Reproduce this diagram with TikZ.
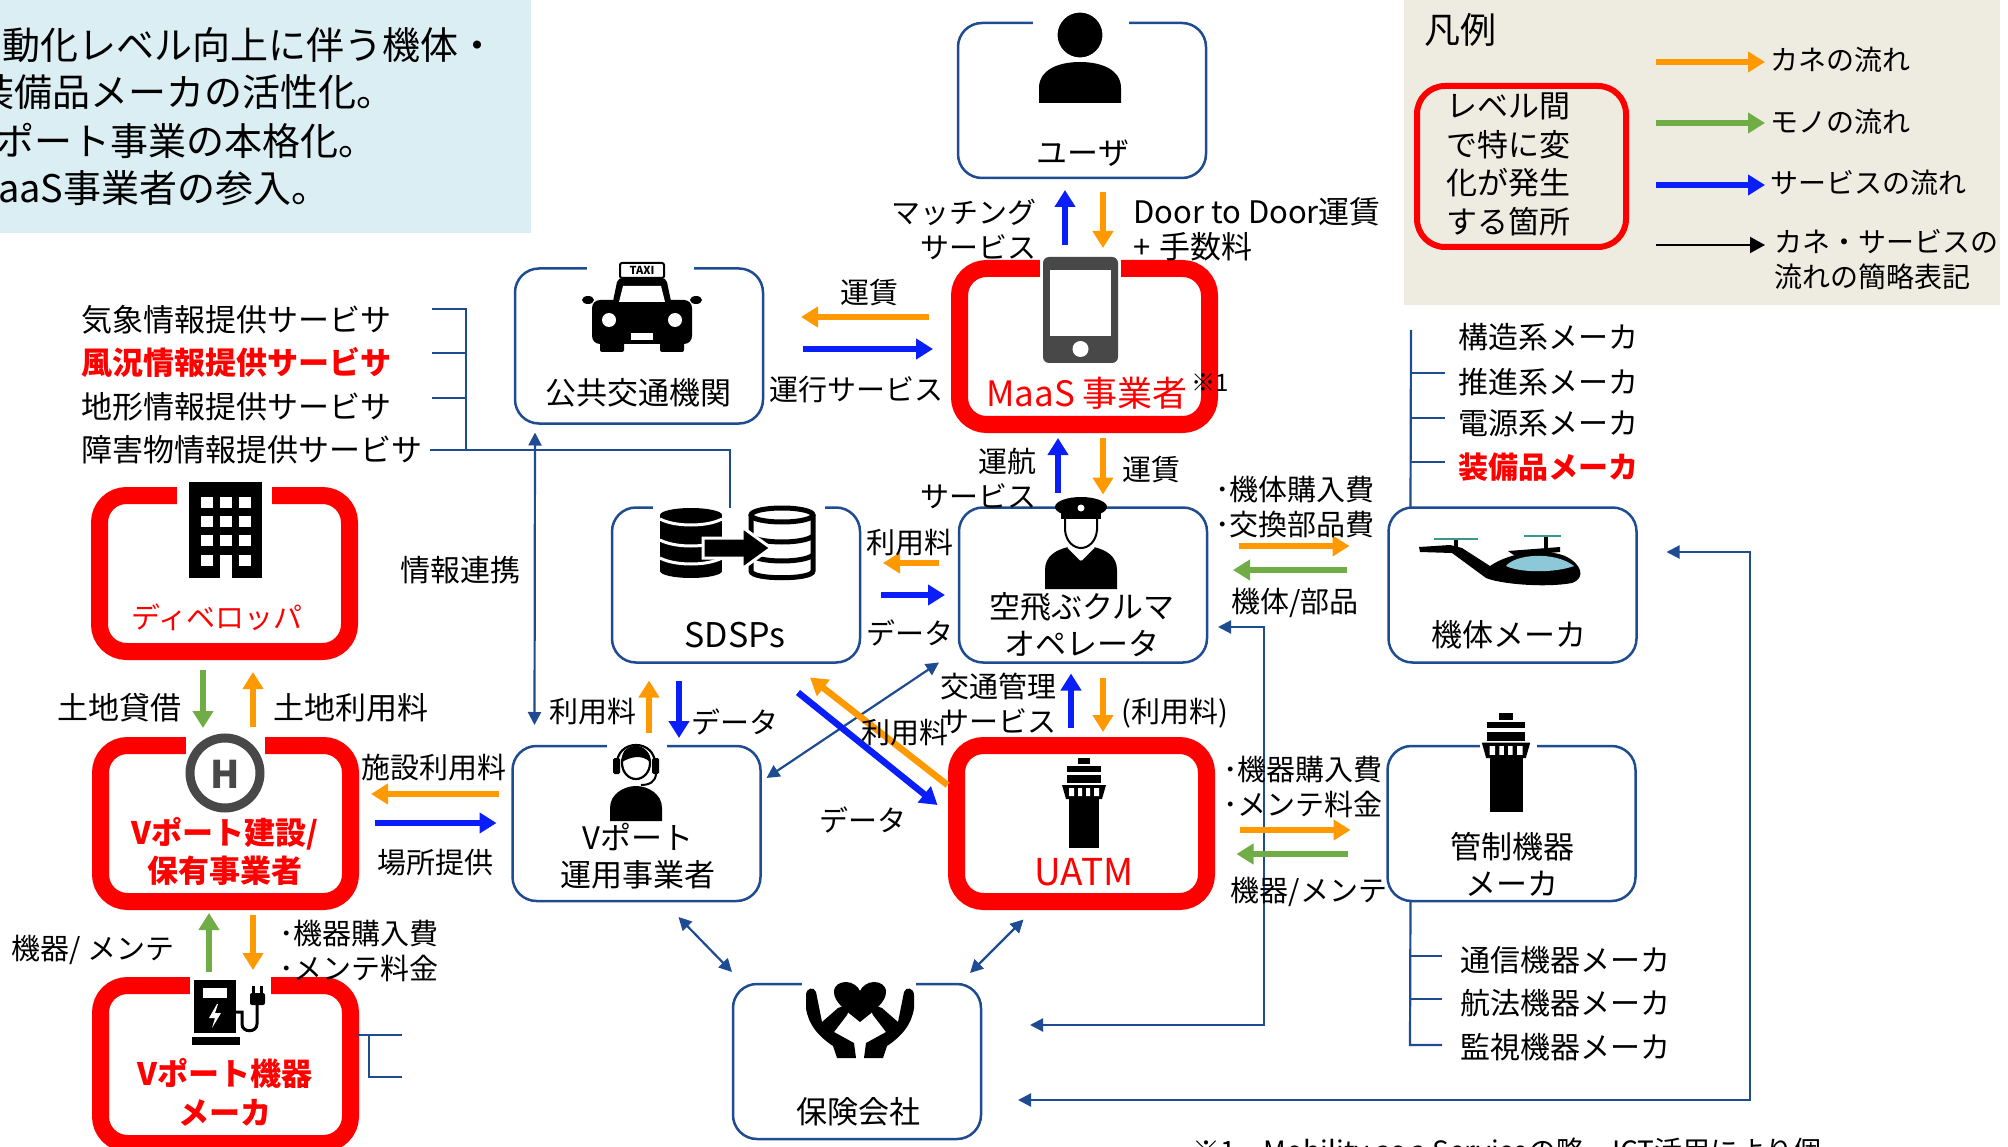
\documentclass[tikz,border=0pt]{standalone}
\usepackage{fontspec}
\setmainfont{Noto Sans CJK JP}
\usetikzlibrary{arrows.meta,calc}

\definecolor{dblue}{RGB}{30,75,145}
\definecolor{ored}{RGB}{255,0,0}
\definecolor{orng}{RGB}{255,153,0}
\definecolor{grn}{RGB}{112,173,71}
\definecolor{blu}{RGB}{10,30,250}
\definecolor{legbg}{RGB}{238,236,225}
\definecolor{infobg}{RGB}{218,238,243}
\definecolor{icongray}{RGB}{72,72,72}
\definecolor{canopy}{RGB}{140,200,215}
\definecolor{rotorc}{RGB}{60,150,140}

\newcommand\fsz[2]{\fontsize{#1pt}{#2pt}\selectfont}

\tikzset{
  bbox/.style={draw=dblue, line width=2.5pt, rounded corners=24pt,
    minimum width=248pt, minimum height=155pt, inner sep=0pt, outer sep=0pt},
  rbox/.style={draw=ored, line width=17pt, rounded corners=27pt,
    minimum width=250pt, minimum height=156pt, inner sep=0pt, outer sep=0pt},
  flowtip/.style={-{Triangle[length=17pt,width=20pt]}},
  flow/.style={line width=6.5pt, flowtip},
  money/.style={flow, draw=orng},
  goods/.style={flow, draw=grn},
  serv/.style={flow, draw=blu},
  link/.style={draw=dblue, line width=2.2pt},
  linkboth/.style={link, {Triangle[length=13pt,width=13pt]}-{Triangle[length=13pt,width=13pt]}},
  lab/.style={inner sep=0pt, font=\fsz{29}{35}},
  boxtitle/.style={inner sep=0pt, font=\fsz{31}{37}, align=center},
  listtext/.style={inner sep=0pt, anchor=west, font=\fsz{31}{36}},
  notetext/.style={inner sep=0pt, anchor=west, font=\fsz{38}{42}},
  tower/.pic={
    \fill (-6,0) rectangle (6,6);
    \fill (-17,8) rectangle (17,14);
    \fill (-17,17) rectangle (17,25);
    \fill (-22,27) -- (22,27) -- (18,41) -- (-18,41) -- cycle;
    \fill[white] (-15,30) rectangle (-10,38) (-6,30) rectangle (-2,38)
                 (2,30) rectangle (6,38) (10,30) rectangle (15,38);
    \fill (-15,41) rectangle (15,90);
  },
}

\begin{document}
\begin{tikzpicture}[x=1pt,y=-1pt]
\useasboundingbox (0,0) rectangle (2008,1147);
\begin{scope}
\clip (0,0) rectangle (2008,1147);

% ---------- top-left note and legend panels ----------
\fill[infobg] (0,0) rectangle (531,233);
\node[notetext] (note1) at (-36,45) {自動化レベル向上に伴う機体・};
\node[notetext] (note2) at (-24,92) {装備品メーカの活性化。};
\node[notetext] (note3) at (-26,141) {Vポート事業の本格化。};
\node[notetext] (note4) at (-33,188) {MaaS事業者の参入。};

\fill[legbg] (1404,0) rectangle (2000,305);
\node[lab, font=\fsz{36}{40}, anchor=west] (leg-t) at (1424,30) {凡例};
\node[draw=ored, line width=6pt, rounded corners=28pt, minimum width=209pt,
      minimum height=161pt, inner sep=0pt] (leg-box) at (1521.5,166.5) {};
\node[boxtitle, font=\fsz{31}{38.5}] (leg-bt) at (1508,164.5) {レベル間\\で特に変\\化が発生\\する箇所};
\node[lab, font=\fsz{28}{35}, anchor=west] (leg-m) at (1770,60) {カネの流れ};
\node[lab, font=\fsz{28}{35}, anchor=west] (leg-g) at (1770,122) {モノの流れ};
\node[lab, font=\fsz{28}{35}, anchor=west] (leg-s) at (1770,183) {サービスの流れ};
\node[lab, font=\fsz{28}{35}, anchor=west, align=left] (leg-k) at (1774,259.5) {カネ・サービスの\\流れの簡略表記};
\draw[money] ($(leg-m.west)+(-114,2)$) -- ($(leg-m.west)+(-5,2)$);
\draw[goods] ($(leg-g.west)+(-114,1)$) -- ($(leg-g.west)+(-5,1)$);
\draw[serv] ($(leg-s.west)+(-114,2)$) -- ($(leg-s.west)+(-5,2)$);
\draw[black, line width=2pt, -{Triangle[length=15pt,width=16pt]}]
  ($(leg-k.west)+(-118,-14.5)$) -- ($(leg-k.west)+(-9,-14.5)$);

% ---------- boxes ----------
\node[bbox] (user) at (1082,100.5) {};
\node[rbox] (maas) at (1084.5,346.5) {};
\node[bbox] (transit) at (639,346) {};
\node[bbox] (sdsp) at (736,585) {};
\node[bbox] (op) at (1083,585) {};
\node[bbox] (body) at (1512.5,585) {};
\node[rbox] (dev) at (224.5,573.5) {};
\node[rbox] (vpb) at (225.5,823.5) {};
\node[bbox] (vop) at (636.5,823.5) {};
\node[rbox] (uatm) at (1081.5,823.5) {};
\node[bbox] (ctrl) at (1511.5,823.5) {};
\node[rbox, minimum height=158pt] (vpm) at (225.5,1064.5) {};
\node[bbox] (ins) at (857,1061.5) {};

% openings in the frames where the icons sit
\fill[white] (1033,14) rectangle (1129,32);
\fill[white] (587,262) rectangle (694,276);
\fill[white] (653,501) rectangle (825,515);
\fill[white] (607,739) rectangle (667,753);
\fill[white] (802,977) rectangle (916,991);
\fill[white] (1480,739) rectangle (1537,753);
\fill[white] (1040,257) rectangle (1121,280);
\fill[white] (177,484) rectangle (272,507);
\fill[white] (186,734) rectangle (265,757);
\fill[white] (190,974) rectangle (271,997);

% ---------- icons ----------
% user
\fill (1039,103) -- (1039,88) .. controls (1039,70) and (1058,62) .. (1080,62)
  .. controls (1102,62) and (1121,70) .. (1121,88) -- (1121,103) -- cycle;
\filldraw[draw=white, line width=3pt] (1080,35) circle (24);
% smartphone
\fill[icongray, rounded corners=6pt] (1043,257) rectangle (1118,363);
\fill[white] (1050,270) rectangle (1111,336);
\fill[white] (1080.5,349) circle (8);
% taxi
\fill (612,306) -- (617,282) .. controls (618,279) and (620,278) .. (623,278) -- (661,278)
  .. controls (664,278) and (666,279) .. (667,282) -- (672,306) -- cycle;
\fill[rounded corners=8pt] (592,300) rectangle (692,344);
\fill[rounded corners=2pt] (600,335) rectangle (624,352);
\fill[rounded corners=2pt] (660,335) rectangle (684,352);
\fill (588,300) ellipse [x radius=6, y radius=4];
\fill (696,300) ellipse [x radius=6, y radius=4];
\fill[white] (619,302) -- (623,286) -- (661,286) -- (665,302) -- cycle;
\fill[white] (609,320) circle (7);
\fill[white] (675,320) circle (7);
\fill[white] (631,333) rectangle (653,340);
\filldraw[fill=white, draw=black, line width=2pt, rounded corners=2pt] (620,263) rectangle (664,278);
\node[inner sep=0pt, font=\fsz{11}{11}\bfseries] (taxi-sign) at (642,270.5) {TAXI};
% pilot
\fill (1081,507) ellipse [x radius=26, y radius=10];
\fill (1061,511) rectangle (1101,519);
\fill[white] (1081,508) circle (3.5);
\filldraw[fill=white, draw=black, line width=2pt] (1065,519) -- (1065,530)
  .. controls (1066,542) and (1074,548) .. (1081,548)
  .. controls (1088,548) and (1096,542) .. (1097,530) -- (1097,519);
\fill (1045,589) -- (1045,570) .. controls (1045,556) and (1056,550) .. (1068,547)
  -- (1081,560) -- (1094,547) .. controls (1106,550) and (1117,556) .. (1117,570)
  -- (1117,589) -- cycle;
\draw[white, line width=2pt] (1068,547) -- (1081,560) -- (1094,547);
\fill (1081,560) -- (1077,565) -- (1081,585) -- (1085,565) -- cycle;
% databases
\fill (660,515) rectangle (722,571);
\fill (691,515) ellipse [x radius=31, y radius=7];
\fill (691,571) ellipse [x radius=31, y radius=7];
\draw[white, line width=3pt] (660,519) .. controls (675,527) and (707,527) .. (722,519);
\draw[white, line width=3pt] (660,540) .. controls (675,548) and (707,548) .. (722,540);
\draw[white, line width=3pt] (660,558) .. controls (675,566) and (707,566) .. (722,558);
\draw[line width=5pt, fill=white] (751,515) -- (751,571) .. controls (751,580) and (813,580) .. (813,571) -- (813,515);
\draw[line width=5pt] (782,515) ellipse [x radius=31, y radius=7];
\draw[line width=5pt] (751,536) .. controls (760,544) and (804,544) .. (813,536);
\draw[line width=5pt] (751,555) .. controls (760,563) and (804,563) .. (813,555);
\filldraw[draw=white, line width=3pt] (703,538) -- (742,538) -- (742,527) -- (771,548)
  -- (742,569) -- (742,558) -- (703,558) -- cycle;
% building
\fill (189,482) rectangle (262,578);
\foreach \cx in {201,220,239}
  \foreach \cy in {497,516,535}
    \fill[white] (\cx,\cy) rectangle ++(12,11);
\fill[white] (201,555) rectangle ++(12,11);
\fill[white] (239,555) rectangle ++(12,11);
\fill[white] (220,555) rectangle (232,578);
% heliport mark
\draw[icongray, line width=9pt] (225,773) circle (35);
\node[inner sep=0pt, text=icongray, font=\fsz{38}{38}\bfseries] (h-mark) at (225,774) {H};
% charging station
\fill (194,980) rectangle (236,1033);
\fill (192,1037) rectangle (240,1045);
\fill[white] (203,988) rectangle (227,998);
\fill[white] (217,1004) -- (209,1018) -- (215,1018) -- (212,1028) -- (221,1013)
  -- (215,1013) -- (218,1004) -- cycle;
\draw[line width=3pt] (236,1012) -- (242,1012) -- (242,1024)
  .. controls (242,1033) and (257,1033) .. (257,1024) -- (257,1004);
\fill[rounded corners=2pt] (250,993) rectangle (265,1005);
\fill (252,986) rectangle (255,993);
\fill (260,986) rectangle (263,993);
% operator with headset
\fill (610,821) -- (610,808) .. controls (610,794) and (624,786) .. (636,786)
  .. controls (648,786) and (662,794) .. (662,808) -- (662,821) -- cycle;
\filldraw[fill=white, draw=black, line width=2.2pt] (636,763) ellipse [x radius=14, y radius=16];
\fill (622,762) .. controls (621,748) and (630,746) .. (637,747)
  .. controls (645,748) and (651,753) .. (650,762) .. controls (642,754) and (630,757) .. (622,762) -- cycle;
\draw[line width=2.2pt] (617,766) .. controls (615,738) and (657,738) .. (655,766);
\fill[rounded corners=1.5pt] (613,758) rectangle (620,774);
\fill[rounded corners=1.5pt] (652,758) rectangle (659,774);
\draw[line width=2pt] (656,773) .. controls (656,782) and (649,785) .. (641,785);
% control towers
\pic at (1084,758) {tower};
\pic[scale=1.1] at (1506,713) {tower};
% eVTOL aircraft
\fill (1419,547) -- (1450,545) -- (1462,548) -- (1490,566)
  .. controls (1510,552) and (1545,548) .. (1565,556)
  .. controls (1582,564) and (1586,578) .. (1572,583)
  .. controls (1545,588) and (1500,584) .. (1486,578)
  -- (1452,553) -- (1420,552) -- cycle;
\fill (1508,551) -- (1560,547) -- (1560,552) -- (1515,556) -- cycle;
\fill (1454,539) rectangle (1458,548);
\fill (1544,537) rectangle (1548,549);
\draw[rotorc, line width=2.5pt] (1434,539) -- (1478,539);
\draw[rotorc, line width=2.5pt] (1524,536) -- (1561,536);
\fill[canopy] (1506,566) .. controls (1515,554) and (1555,551) .. (1574,566)
  .. controls (1555,573) and (1520,573) .. (1506,566) -- cycle;
% heart in hands
\fill (860,1022) .. controls (845,1010) and (834,1002) .. (834,992)
  .. controls (834,985) and (840,982) .. (846,982) .. controls (852,982) and (858,986) .. (860,991)
  .. controls (862,986) and (868,982) .. (874,982) .. controls (880,982) and (886,985) .. (886,992)
  .. controls (886,1002) and (875,1010) .. (860,1022) -- cycle;
\fill (806,995) .. controls (806,988) and (814,986) .. (816,992) -- (822,1022) -- (838,1008)
  .. controls (843,1004) and (851,1009) .. (847,1015) -- (834,1032) -- (854,1043)
  -- (856,1058) -- (837,1058) -- (833,1046) .. controls (818,1036) and (808,1024) .. (806,1008) -- cycle;
\begin{scope}[shift={(1720,0)}, xscale=-1]
\fill (806,995) .. controls (806,988) and (814,986) .. (816,992) -- (822,1022) -- (838,1008)
  .. controls (843,1004) and (851,1009) .. (847,1015) -- (834,1032) -- (854,1043)
  -- (856,1058) -- (837,1058) -- (833,1046) .. controls (818,1036) and (808,1024) .. (806,1008) -- cycle;
\end{scope}

% ---------- box titles ----------
\node[boxtitle] (user-t) at (1083,153) {ユーザ};
\node[boxtitle, text=ored, font=\fsz{35}{40}] (maas-t) at (1087,393) {MaaS 事業者};
\node[inner sep=0pt, anchor=west, font=\fsz{24}{26}] (maas-n) at (1191,383) {※1};
\node[boxtitle] (transit-t) at (638,393) {公共交通機関};
\node[boxtitle, font=\fsz{34}{40}] (sdsp-t) at (735,635) {SDSPs};
\node[boxtitle] (op-t) at (1082,625) {空飛ぶクルマ\\オペレータ};
\node[boxtitle] (body-t) at (1509,635) {機体メーカ};
\node[boxtitle, text=ored, font=\fsz{29}{35}] (dev-t) at (217,617) {ディベロッパ};
\node[boxtitle, text=ored, font=\fsz{31}{38}\bfseries] (vpb-t) at (225,851) {Vポート建設/\\保有事業者};
\node[boxtitle] (vop-t) at (638,856) {Vポート\\運用事業者};
\node[boxtitle, text=ored, font=\fsz{37}{40}] (uatm-t) at (1084,872) {UATM};
\node[boxtitle] (ctrl-t) at (1512,864) {管制機器\\メーカ};
\node[boxtitle, text=ored, font=\fsz{31}{39}\bfseries] (vpm-t) at (225,1092.5) {Vポート機器\\メーカ};
\node[boxtitle] (ins-t) at (858,1112) {保険会社};

% ---------- supplier lists ----------
\node[listtext] (wx) at (81,320) {気象情報提供サービサ};
\node[listtext, text=ored, font=\fsz{31}{36}\bfseries] (wind) at (81,363) {風況情報提供サービサ};
\node[listtext] (terrain) at (81,407) {地形情報提供サービサ};
\node[listtext] (obst) at (81,450) {障害物情報提供サービサ};
\node[listtext, font=\fsz{30}{36}] (mk1) at (1458,337) {構造系メーカ};
\node[listtext, font=\fsz{30}{36}] (mk2) at (1458,382) {推進系メーカ};
\node[listtext, font=\fsz{30}{36}] (mk3) at (1458,423) {電源系メーカ};
\node[listtext, text=ored, font=\fsz{30}{36}\bfseries] (mk4) at (1458,467) {装備品メーカ};
\node[listtext, font=\fsz{30}{36}] (cm1) at (1460,960) {通信機器メーカ};
\node[listtext, font=\fsz{30}{36}] (cm2) at (1460,1003) {航法機器メーカ};
\node[listtext, font=\fsz{30}{36}] (cm3) at (1460,1047) {監視機器メーカ};

% ---------- thin information links ----------
\draw[link] (432,309) -- (466,309) -- (466,450);
\draw[link] (432,353) -- (466,353);
\draw[link] (432,398) -- (466,398);
\draw[link] ($(obst.east)+(8,0)$) -| ($(sdsp.north)+(-6,0)$);
\draw[linkboth] ($(transit.south west)+(20,9)$) -- ($(vop.north west)+(22,-21)$);
\draw[link] (1411,330) -- ($(body.north west)+(22,0)$);
\draw[link] (1411,373) -- (1445,373);
\draw[link] (1411,418) -- (1445,418);
\draw[link] (1411,462) -- (1445,462);
\draw[link] ($(ctrl.south west)+(23,0)$) -- (1410,1045) -- (1442,1045);
\draw[link] (1410,956) -- (1442,956);
\draw[link] (1410,999) -- (1442,999);
\draw[link] (357,1035) -- (402,1035);
\draw[link] (369,1035) -- (369,1077) -- (402,1077);
\draw[linkboth] ($(vop.north east)+(6,32)$) -- ($(op.south west)+(-20,0)$);
\draw[linkboth] ($(vop.south)+(42,16)$) -- ($(ins.north west)+(-1,-12)$);
\draw[linkboth] ($(uatm.south)+(-58,18)$) -- ($(ins.north east)+(-11,-11)$);
\coordinate (loopA) at (1750,1100);
\coordinate (loopB) at (1264,1025);
\draw[linkboth] ($(body.east)+(30,-33)$) -| (loopA) -- ($(ins.east)+(37,38.5)$);
\draw[linkboth] ($(op.east)+(11,42)$) -| (loopB) -- ($(ins.east)+(49,-36.5)$);

% ---------- money / goods / service flows ----------
\draw[serv]  ($(maas.north)+(-19.5,-23.5)$) -- ($(user.south)+(-17,12)$);
\draw[money] ($(user.south)+(21,14)$) -- ($(maas.north)+(18.5,-20.5)$);
\draw[money] ($(maas.west)+(-30.5,-29.5)$) -- ($(transit.east)+(38,-29)$);
\draw[serv]  ($(transit.east)+(40,3)$) -- ($(maas.west)+(-26.5,2.5)$);
\draw[serv]  ($(op.north)+(-25,-15)$) -- ($(maas.south)+(-26.5,13.5)$);
\draw[money] ($(maas.south)+(18.5,13.5)$) -- ($(op.north)+(20,-13)$);
\draw[money] ($(op.west)+(-20,-22)$) -- ($(sdsp.east)+(23,-22)$);
\draw[serv]  ($(sdsp.east)+(21,10)$) -- ($(op.west)+(-14,10)$);
\draw[serv]  ($(uatm.north)+(-10.5,-17.5)$) -- ($(op.south)+(-12,11)$);
\draw[money] ($(op.south)+(20,15)$) -- ($(uatm.north)+(21.5,-13.5)$);
\draw[money] ($(op.east)+(32,-39)$) -- ($(body.west)+(-39,-39)$);
\draw[goods] ($(body.west)+(-42,-15)$) -- ($(op.east)+(26,-15)$);
\draw[money] ($(uatm.east)+(33,6.5)$) -- ($(ctrl.west)+(-37,6.5)$);
\draw[goods] ($(ctrl.west)+(-40,30.5)$) -- ($(uatm.east)+(30,30.5)$);
\draw[money] ($(vop.north)+(12.5,-13)$) -- ($(sdsp.south)+(-87,18)$);
\draw[serv]  ($(sdsp.south)+(-57,18)$) -- ($(vop.north)+(42.5,-8)$);
\draw[serv]  ($(sdsp.south east)+(-62,30)$) -- ($(uatm.north west)+(-19,59.5)$);
\draw[money] ($(uatm.north west)+(-9,39.5)$) -- ($(sdsp.south east)+(-50,15)$);
\draw[money] ($(vop.west)+(-14,-29.5)$) -- ($(vpb.east)+(20.5,-29.5)$);
\draw[serv]  ($(vpb.east)+(24.5,-0.5)$) -- ($(vop.west)+(-16,-0.5)$);
\draw[goods] ($(dev.south)+(-21.5,18.5)$) -- ($(vpb.north)+(-22.5,-17.5)$);
\draw[money] ($(vpb.north)+(27.5,-18.5)$) -- ($(dev.south)+(28.5,20.5)$);
\draw[goods] ($(vpm.north)+(-16.5,-13.5)$) -- ($(vpb.south)+(-16.5,11.5)$);
\draw[money] ($(vpb.south)+(27.5,13.5)$) -- ($(vpm.north)+(27.5,-15.5)$);

% ---------- flow labels ----------
\node[lab, align=right, anchor=east] (l-match) at (1037,229.5) {マッチング\\サービス};
\node[lab, font=\fsz{31}{35}, align=left, anchor=west] (l-d2d) at (1133,229.5) {Door to Door運賃\\+\hspace{9pt}手数料};
\node[lab] (l-fare1) at (869,293) {運賃};
\node[lab] (l-opsvc) at (856,390) {運行サービス};
\node[lab, align=right, anchor=east] (l-navsvc) at (1037,478.5) {運航\\サービス};
\node[lab] (l-fare2) at (1151,470) {運賃};
\node[lab] (l-fee1) at (910,543) {利用料};
\node[lab] (l-data1) at (910,633) {データ};
\node[lab, align=left, anchor=west] (l-bodyfee) at (1215,507.5) {･機体購入費\\･交換部品費};
\node[lab] (l-bodyparts) at (1295,603) {機体/部品};
\node[lab, font=\fsz{30}{36}] (l-info) at (460,570) {情報連携};
\node[lab, font=\fsz{31}{36}] (l-land1) at (119,708) {土地貸借};
\node[lab, font=\fsz{31}{36}] (l-land2) at (351,708) {土地利用料};
\node[lab] (l-facil) at (434,768) {施設利用料};
\node[lab] (l-place) at (435,863) {場所提供};
\node[lab] (l-eqm1) at (93,950) {機器/ メンテ};
\node[lab, align=left, anchor=west] (l-eqfee1) at (279,950.5) {･機器購入費\\･メンテ料金};
\node[lab] (l-fee2) at (593,712) {利用料};
\node[lab] (l-data2) at (735,722) {データ};
\node[lab, align=right, anchor=east] (l-tmsvc) at (1057,703.5) {交通管理\\サービス};
\node[lab] (l-fee3) at (1175,713) {(利用料)};
\node[lab] (l-fee4) at (905,733) {利用料};
\node[lab] (l-data3) at (863,820) {データ};
\node[lab, align=left, anchor=west] (l-eqfee2) at (1223,786.5) {･機器購入費\\･メンテ料金};
\node[lab] (l-eqm2) at (1309,892) {機器/メンテ};

% footnote
\node[lab, font=\fsz{28}{32}, anchor=west] (fn) at (1192,1153) {※1　Mobility as a Serviceの略。ICT活用により個};

\end{scope}
\end{tikzpicture}
\end{document}
